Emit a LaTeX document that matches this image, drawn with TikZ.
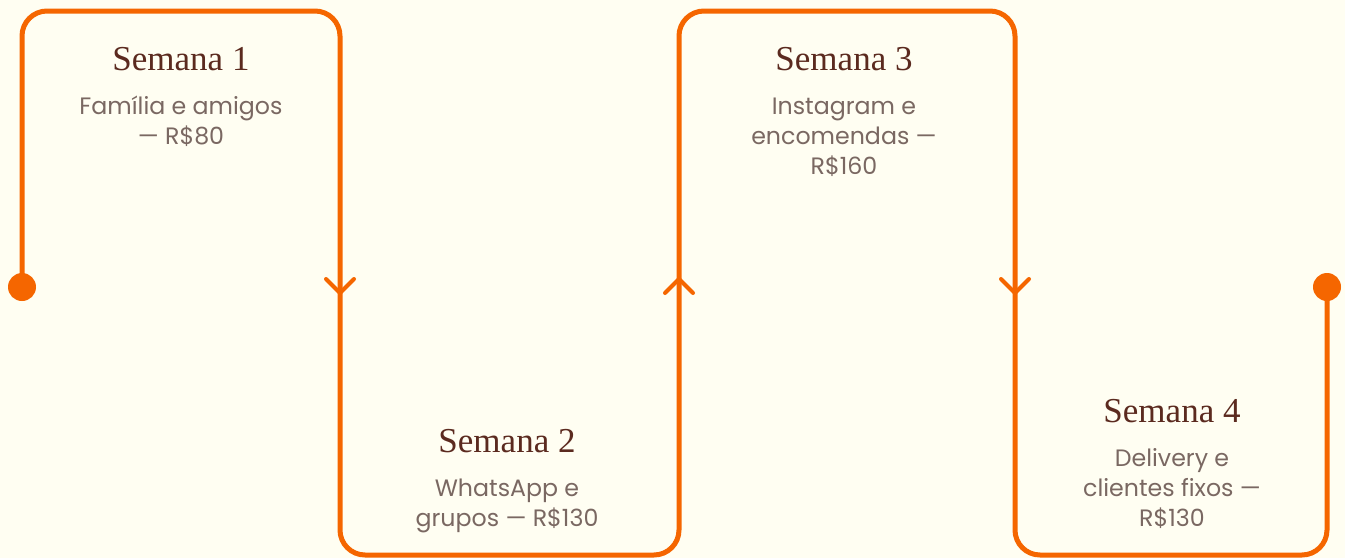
\documentclass[tikz,border=0pt]{standalone}
\usepackage{fontspec}
\setmainfont{Poppins}
\newfontfamily\titlefont{Liberation Serif}
\definecolor{bg}{HTML}{FFFEF2}
\definecolor{track}{HTML}{F56600}
\definecolor{titlecol}{HTML}{5B2A1F}
\definecolor{bodycol}{HTML}{7A6862}
\tikzset{
  trackline/.style={draw=track, line width=5pt, rounded corners=25pt, line join=round},
  chevron/.style={draw=track, line width=4pt, line cap=round, line join=round},
  enddot/.style={circle, fill=track, minimum size=28pt, inner sep=0pt},
  wtitle/.style={anchor=base, inner sep=0pt, text=titlecol, font=\titlefont\fontsize{35}{40}\selectfont},
  wbody/.style={anchor=base, inner sep=0pt, align=center, text=bodycol, font=\fontsize{23.7}{30}\selectfont},
}
\begin{document}
\begin{tikzpicture}[x=1pt,y=-1pt]
\fill[bg] (0,0) rectangle (1345,558);
\useasboundingbox (0,0) rectangle (1345,558);
% track corners
\coordinate (p0) at (22,287);
\coordinate (p1) at (22,11);
\coordinate (p2) at (340,11);
\coordinate (p3) at (340,555);
\coordinate (p4) at (679,555);
\coordinate (p5) at (679,11);
\coordinate (p6) at (1015,11);
\coordinate (p7) at (1015,555);
\coordinate (p8) at (1327,555);
\coordinate (p9) at (1327,287);
\draw[trackline] (p0) -- (p1) -- (p2) -- (p3) -- (p4) -- (p5) -- (p6) -- (p7) -- (p8) -- (p9);
\node[enddot] (d0) at (p0) {};
\node[enddot] (d1) at (p9) {};
% chevrons
\draw[chevron] (326,279) -- (340,293) -- (354,279);
\draw[chevron] (665,293) -- (679,279) -- (693,293);
\draw[chevron] (1001,279) -- (1015,293) -- (1029,279);
% texts (body anchor = baseline of last line)
\node[wtitle] (t1) at (181,70) {Semana 1};
\node[wbody] (b1) at (181,144) {Família e amigos\\— R\$80};
\node[wtitle] (t2) at (507,452) {Semana 2};
\node[wbody] (b2) at (507,526) {WhatsApp e\\grupos — R\$130};
\node[wtitle] (t3) at (844,70) {Semana 3};
\node[wbody] (b3) at (844,174) {Instagram e\\encomendas —\\R\$160};
\node[wtitle] (t4) at (1172,422) {Semana 4};
\node[wbody] (b4) at (1172,526) {Delivery e\\clientes fixos —\\R\$130};
\end{tikzpicture}
\end{document}
